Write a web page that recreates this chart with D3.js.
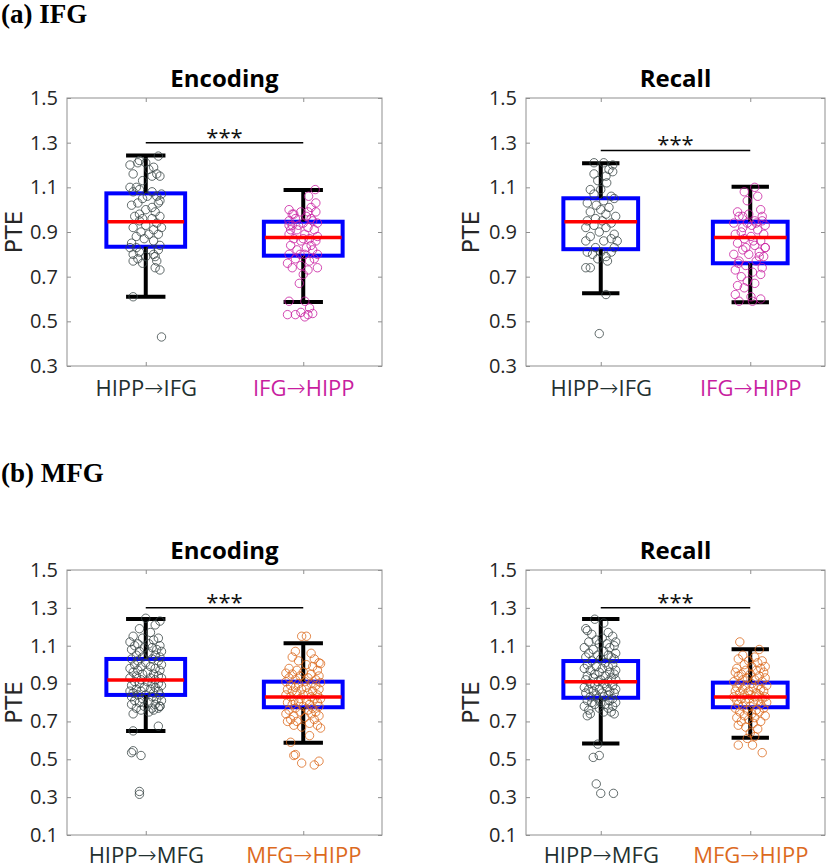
<!DOCTYPE html>
<html><head><meta charset="utf-8">
<script src="https://cdn.jsdelivr.net/npm/d3@7"></script>
<style>body{margin:0;background:#fff}svg{display:block}</style>
</head><body>
<script>
// ---------- data ----------
const panelLabels = ["(a) IFG", "(b) MFG"];
const titles = ["Encoding", "Recall"];
const catsA = ["HIPP\u2192IFG", "IFG\u2192HIPP"];
const catsB = ["HIPP\u2192MFG", "MFG\u2192HIPP"];
const yTicksA = [0.3, 0.5, 0.7, 0.9, 1.1, 1.3, 1.5];
const yTicksB = [0.1, 0.3, 0.5, 0.7, 0.9, 1.1, 1.3, 1.5];
const sigLabel = "***";
// box stats: [lower whisker, Q1, median, Q3, upper whisker]
const boxAEnc = [[0.610,0.834,0.946,1.073,1.242],[0.587,0.794,0.875,0.946,1.088]];
const boxARec = [[0.626,0.823,0.946,1.051,1.208],[0.585,0.760,0.875,0.946,1.103]];
const boxBEnc = [[0.649,0.840,0.919,1.030,1.241],[0.588,0.775,0.829,0.910,1.113]];
const boxBRec = [[0.584,0.825,0.910,1.019,1.241],[0.614,0.775,0.829,0.905,1.081]];
const sigAEnc = 1.30, sigARec = 1.265, sigBEnc = 1.30, sigBRec = 1.30;
// points: [jitter (category units), PTE]
const ptsAEnc1 = [[0.08,1.24],[-0.04,1.22],[-0.05,1.21],[-0.10,1.20],[0.00,1.21],[0.05,1.19],[0.02,1.18],[0.07,1.16],[-0.08,1.16],[0.09,1.15],[0.04,1.15],[-0.02,1.13],
[-0.10,1.10],[-0.06,1.10],[-0.04,1.09],[-0.08,1.08],[0.04,1.08],[0.10,1.07],[0.07,1.06],[0.01,1.06],[-0.02,1.05],[0.09,1.04],[-0.05,1.03],[0.08,1.03],[-0.09,1.02],[0.04,1.01],[0.00,1.00],[0.06,0.99],[-0.04,0.98],[0.09,0.97],[-0.07,0.97],[-0.02,0.96],[0.04,0.96],[-0.04,0.95],[0.07,0.94],[0.00,0.93],[-0.08,0.92],[0.10,0.92],[0.05,0.91],[-0.03,0.90],[0.02,0.89],[0.08,0.89],[-0.06,0.88],[-0.01,0.87],[0.05,0.86],[-0.09,0.85],[0.09,0.84],[-0.06,0.83],[0.03,0.82],[-0.10,0.83],[0.08,0.82],[-0.04,0.81],[0.05,0.80],[-0.08,0.80],[0.00,0.79],[0.06,0.79],[-0.05,0.78],[0.07,0.77],[-0.08,0.77],[-0.02,0.76],[0.06,0.74],[0.09,0.73],
[-0.08,0.61],[0.10,0.43]];
const ptsAEnc2 = [[0.076,1.09],[0.034,1.06],[0.08,1.03],[0.05,1.01],[-0.09,1.00],[-0.015,0.99],[-0.07,0.98],[0.08,0.99],[0.02,0.97],[-0.05,0.96],[0.05,0.96],[-0.09,0.95],[0.00,0.94],[0.09,0.94],[-0.07,0.93],[0.03,0.92],[-0.04,0.91],[0.07,0.91],[-0.09,0.89],[0.01,0.89],[0.09,0.88],[-0.06,0.87],[0.04,0.87],[-0.015,0.86],[0.08,0.86],[-0.08,0.84],[0.02,0.83],[-0.04,0.82],[0.06,0.82],[-0.09,0.80],[0.01,0.80],[0.09,0.80],[-0.05,0.78],[0.04,0.77],[-0.10,0.76],[-0.015,0.75],[0.09,0.74],[-0.07,0.74],[0.03,0.73],[0.00,0.71],[-0.025,0.67],
[-0.03,0.93],[0.06,0.95],[-0.08,0.91],[0.00,0.87],[0.05,0.84],[-0.02,0.80],[0.07,0.78],[-0.06,0.98],[0.03,0.99],[-0.09,0.93],
[-0.09,0.59],[0.01,0.59],[0.04,0.56],[-0.10,0.53],[-0.05,0.53],[-0.015,0.54],[0.03,0.53],[0.01,0.52],[0.06,0.535]];
const ptsARec1 = [[-0.045,1.21],[0.02,1.21],[0.08,1.20],[0.055,1.18],[-0.045,1.16],[0.08,1.17],[0.035,1.15],[-0.02,1.13],[0.04,1.12],[-0.07,1.09],[0.00,1.09],[-0.045,1.07],[0.07,1.06],[0.09,1.05],[0.02,1.04],[-0.09,1.03],[-0.03,1.02],[0.055,1.01],[0.00,1.00],[-0.07,0.99],[0.035,0.98],[0.10,0.97],[-0.035,0.96],[-0.09,0.95],[0.01,0.95],[0.07,0.94],[-0.045,0.93],[-0.10,0.92],[0.035,0.92],[-0.01,0.90],[0.09,0.89],[-0.07,0.88],[0.07,0.87],[0.11,0.86],[0.02,0.86],[-0.10,0.86],[-0.035,0.83],[0.09,0.83],[-0.09,0.81],[0.00,0.81],[0.07,0.81],[-0.055,0.80],[0.035,0.79],[-0.02,0.78],[-0.10,0.74],[-0.07,0.74],[0.045,0.77],
[0.035,0.62],[-0.01,0.445]];
const ptsARec2 = [[0.03,1.10],[-0.04,1.08],[0.05,1.06],[-0.02,1.04],[-0.085,0.99],[0.07,1.00],[-0.01,0.98],[-0.075,0.97],[0.08,0.97],[0.03,0.95],[-0.11,0.94],[-0.02,0.94],[0.10,0.93],[-0.05,0.92],[0.05,0.91],[-0.10,0.89],[0.09,0.89],[0.005,0.88],[-0.04,0.87],[0.07,0.86],[-0.085,0.85],[0.03,0.84],[0.10,0.83],[-0.05,0.82],[0.06,0.81],[-0.11,0.80],[-0.01,0.80],[0.09,0.79],[-0.075,0.77],[0.04,0.77],[-0.03,0.75],[0.08,0.74],[-0.10,0.73],[0.015,0.72],[-0.06,0.70],[0.07,0.71],[-0.02,0.68],[-0.085,0.66],[0.03,0.67],[-0.04,0.65],[-0.10,0.62],[0.005,0.61],[-0.075,0.59],[0.07,0.60],[0.015,0.59],
[0.04,0.94],[-0.06,0.90],[0.02,0.86],[-0.03,0.83],[0.06,0.79],[-0.08,0.76],[0.01,0.93],[0.08,0.95],[-0.05,0.97],[0.10,0.83]];
const ptsBEnc1 = [[0.00,1.245],[0.09,1.23],[0.06,1.21],[-0.04,1.19],[0.03,1.17],[-0.08,1.15],[0.08,1.14],[-0.02,1.14],[0.05,1.13],[-0.10,1.12],[-0.05,1.11],[0.02,1.11],[0.09,1.10],[-0.07,1.10],[0.04,1.09],[-0.01,1.09],[-0.09,1.08],[0.07,1.08],[0.10,1.07],[-0.04,1.07],[0.02,1.06],[-0.06,1.05],[0.06,1.05],[0.09,1.04],[-0.02,1.04],[-0.09,1.03],[0.04,1.03],[0.08,1.02],[-0.05,1.02],[0.00,1.01],[0.10,1.00],[-0.07,1.00],[0.03,0.99],[-0.03,0.99],[0.06,0.98],[-0.10,0.98],[0.09,0.97],[-0.05,0.97],[0.01,0.96],[-0.08,0.96],[0.05,0.95],[-0.02,0.95],[0.08,0.94],[-0.06,0.94],[0.03,0.93],[-0.10,0.93],[0.10,0.93],[-0.03,0.92],[0.06,0.92],[-0.07,0.91],[0.01,0.91],[0.08,0.90],[-0.04,0.90],[0.04,0.90],[-0.09,0.89],[0.10,0.89],[-0.01,0.88],[0.06,0.88],[-0.06,0.87],[0.03,0.87],[-0.10,0.86],[0.08,0.86],[-0.03,0.86],[0.05,0.85],[-0.08,0.85],[0.00,0.84],[0.09,0.84],[-0.05,0.84],[0.04,0.83],[-0.09,0.83],[0.07,0.82],[-0.02,0.82],[-0.07,0.81],[0.10,0.81],[0.02,0.80],[-0.04,0.80],[0.06,0.79],[-0.09,0.79],[0.09,0.78],[-0.01,0.78],[0.04,0.77],[-0.06,0.77],[0.08,0.77],[-0.03,0.76],[0.02,0.75],[-0.08,0.74],[0.05,0.76],[0.09,0.78],
[-0.08,0.65],[0.08,0.675],[-0.09,0.535],[-0.08,0.545],[-0.03,0.52],[-0.04,0.33],[-0.04,0.315]];
const ptsBEnc2 = [[-0.01,1.15],[0.02,1.15],[-0.05,1.07],[0.05,1.06],[0.07,1.03],[-0.07,1.04],[0.10,1.01],[0.11,1.005],[-0.03,1.02],[0.02,1.00],[0.06,0.99],[-0.09,0.98],[0.09,0.97],[-0.04,0.97],[0.00,0.96],[-0.11,0.955],[0.05,0.95],[-0.07,0.95],[0.10,0.94],[-0.02,0.94],[0.03,0.93],[-0.09,0.93],[0.08,0.92],[-0.05,0.92],[0.01,0.91],[-0.11,0.91],[0.11,0.905],[0.05,0.90],[-0.03,0.90],[-0.08,0.89],[0.08,0.89],[0.02,0.88],[-0.05,0.88],[0.10,0.87],[-0.10,0.87],[-0.01,0.87],[0.06,0.86],[-0.07,0.86],[0.03,0.85],[-0.04,0.85],[0.09,0.84],[-0.11,0.84],[0.00,0.84],[0.05,0.83],[-0.08,0.83],[0.11,0.82],[-0.02,0.82],[0.07,0.82],[-0.06,0.81],[0.02,0.81],[0.09,0.80],[-0.10,0.80],[-0.03,0.80],[0.04,0.79],[-0.07,0.79],[0.10,0.78],[0.00,0.78],[-0.05,0.77],[0.06,0.77],[-0.09,0.76],[0.03,0.76],[0.08,0.75],[-0.02,0.75],[-0.11,0.74],[0.05,0.74],[-0.06,0.73],[0.10,0.73],[0.01,0.72],[-0.08,0.71],[0.07,0.71],[-0.04,0.70],[0.04,0.69],[-0.10,0.70],[0.09,0.68],[-0.01,0.67],[-0.06,0.68],[0.11,0.665],[0.04,0.625],
[-0.08,0.59],[-0.05,0.525],[-0.06,0.52],[-0.01,0.48],[0.07,0.47],[0.10,0.49]];
const ptsBRec1 = [[-0.04,1.24],[0.02,1.22],[-0.10,1.19],[-0.09,1.18],[0.05,1.17],[-0.06,1.16],[0.08,1.15],[0.01,1.14],[-0.03,1.13],[0.10,1.12],[-0.08,1.12],[0.04,1.11],[-0.01,1.11],[0.09,1.10],[-0.11,1.09],[0.06,1.09],[-0.05,1.08],[0.02,1.07],[0.10,1.06],[-0.08,1.06],[0.05,1.05],[-0.02,1.05],[0.07,1.04],[-0.10,1.04],[0.00,1.03],[0.09,1.03],[-0.06,1.02],[0.03,1.01],[-0.09,1.00],[0.08,1.00],[-0.03,0.99],[0.05,0.99],[-0.11,0.98],[0.01,0.98],[0.10,0.97],[-0.07,0.97],[-0.01,0.96],[0.06,0.96],[-0.04,0.95],[0.09,0.95],[-0.09,0.94],[0.03,0.94],[-0.05,0.93],[0.07,0.93],[0.00,0.92],[-0.10,0.92],[0.10,0.92],[-0.02,0.91],[0.05,0.91],[-0.07,0.90],[0.02,0.90],[0.08,0.89],[-0.04,0.89],[-0.11,0.88],[0.04,0.88],[-0.01,0.87],[0.10,0.87],[-0.08,0.87],[0.06,0.86],[-0.05,0.86],[0.01,0.85],[0.09,0.85],[-0.10,0.85],[-0.03,0.84],[0.05,0.84],[-0.07,0.83],[0.02,0.83],[0.08,0.82],[-0.02,0.82],[-0.09,0.81],[0.06,0.81],[0.00,0.80],[-0.06,0.80],[0.10,0.80],[0.03,0.79],[-0.04,0.79],[0.08,0.78],[-0.11,0.78],[-0.01,0.77],[0.05,0.77],[-0.08,0.76],[0.02,0.75],[-0.07,0.74],[0.07,0.75],[-0.09,0.73],[0.09,0.74],
[-0.02,0.58],[-0.05,0.51],[-0.01,0.52],[-0.03,0.37],[0.00,0.32],[0.085,0.32]];
const ptsBRec2 = [[-0.07,1.12],[0.06,1.08],[-0.05,1.05],[0.03,1.04],[-0.08,1.03],[0.08,1.02],[-0.01,1.02],[0.05,1.01],[-0.04,1.00],[0.10,0.99],[0.01,0.99],[-0.09,0.98],[0.07,0.98],[-0.03,0.97],[0.04,0.97],[-0.10,0.96],[0.09,0.96],[-0.06,0.95],[0.00,0.95],[0.06,0.94],[-0.08,0.94],[-0.02,0.93],[0.10,0.93],[0.03,0.92],[-0.05,0.92],[-0.11,0.91],[0.08,0.91],[0.01,0.90],[-0.07,0.90],[0.05,0.89],[-0.03,0.89],[0.11,0.89],[-0.09,0.88],[0.02,0.88],[0.07,0.87],[-0.05,0.87],[-0.01,0.86],[-0.10,0.86],[0.09,0.86],[0.04,0.85],[-0.07,0.85],[0.00,0.84],[0.06,0.84],[-0.04,0.84],[-0.11,0.83],[0.10,0.83],[0.03,0.83],[-0.06,0.82],[-0.01,0.82],[0.08,0.82],[-0.09,0.81],[0.05,0.81],[-0.03,0.80],[0.02,0.80],[0.11,0.80],[-0.08,0.79],[0.07,0.79],[-0.05,0.78],[0.00,0.78],[-0.10,0.77],[0.09,0.77],[0.04,0.76],[-0.02,0.76],[-0.07,0.75],[0.06,0.75],[0.01,0.74],[-0.04,0.73],[0.10,0.73],[-0.09,0.72],[0.03,0.72],[-0.01,0.71],[0.07,0.70],[-0.06,0.70],[0.02,0.69],[-0.03,0.67],[0.05,0.66],[-0.08,0.68],[0.00,0.64],[0.03,0.62],
[-0.08,0.575],[0.015,0.575],[0.08,0.535],[-0.02,0.61]];

// ---------- style ----------
const grayPt = "#3b4747", magenta = "#c81ea0", orange = "#dc6a1e", labelDark = "#22302f";
const frameColor = "#8f8f8f", tickText = "#262626";
const font = "'Open Sans', 'Noto Sans', sans-serif";

const panels = [
  {title: titles[0], x0: 67,  x1: 382, y0: 98,  y1: 366, dom: [0.3,1.5], ticks: yTicksA, cats: catsA, box: boxAEnc, sig: sigAEnc, pts: [ptsAEnc1, ptsAEnc2], col2: magenta, ylab: 0, lab: 30},
  {title: titles[1], x0: 526, x1: 825, y0: 98,  y1: 366, dom: [0.3,1.5], ticks: yTicksA, cats: catsA, box: boxARec, sig: sigARec, pts: [ptsARec1, ptsARec2], col2: magenta, ylab: 457, lab: 30},
  {title: titles[0], x0: 67,  x1: 382, y0: 570, y1: 835, dom: [0.1,1.5], ticks: yTicksB, cats: catsB, box: boxBEnc, sig: sigBEnc, pts: [ptsBEnc1, ptsBEnc2], col2: orange, ylab: 0, lab: 28},
  {title: titles[1], x0: 526, x1: 825, y0: 570, y1: 835, dom: [0.1,1.5], ticks: yTicksB, cats: catsB, box: boxBRec, sig: sigBRec, pts: [ptsBRec1, ptsBRec2], col2: orange, ylab: 457, lab: 28}
];

const svg = d3.select("body").append("svg").attr("width", 828).attr("height", 868);

const serif = "'Liberation Serif', 'Times New Roman', serif";
svg.append("text").attr("x", 1).attr("y", 23).text(panelLabels[0])
  .attr("font-family", serif).attr("font-weight", "bold").attr("font-size", 27).attr("fill", "#000");
svg.append("text").attr("x", 1).attr("y", 482).text(panelLabels[1])
  .attr("font-family", serif).attr("font-weight", "bold").attr("font-size", 27).attr("fill", "#000");

panels.forEach(p => {
  const g = svg.append("g");
  const x = d3.scaleLinear().domain([0.5, 2.5]).range([p.x0, p.x1]);
  const y = d3.scaleLinear().domain(p.dom).range([p.y1, p.y0]);
  const colors = [grayPt, p.col2];
  const txtColors = [labelDark, p.col2];

  // frame
  g.append("rect").attr("x", p.x0).attr("y", p.y0).attr("width", p.x1 - p.x0).attr("height", p.y1 - p.y0)
    .attr("fill", "none").attr("stroke", frameColor).attr("stroke-width", 1);

  // y axes (left labels + inward ticks; mirrored ticks on right)
  const yAxL = d3.axisLeft(y).tickValues(p.ticks).tickFormat(d3.format(".1f")).tickSizeInner(-4).tickSizeOuter(0).tickPadding(10);
  const gl = g.append("g").attr("transform", `translate(${p.x0},0)`).call(yAxL);
  gl.select(".domain").remove();
  gl.selectAll("line").attr("stroke", frameColor);
  gl.selectAll("text").attr("font-family", font).attr("font-size", 20).attr("fill", tickText).attr("x", -9);
  const yAxR = d3.axisRight(y).tickValues(p.ticks).tickFormat("").tickSizeInner(-4).tickSizeOuter(0);
  const gr = g.append("g").attr("transform", `translate(${p.x1},0)`).call(yAxR);
  gr.select(".domain").remove();
  gr.selectAll("line").attr("stroke", frameColor);

  // x axes
  const xAxB = d3.axisBottom(x).tickValues([1, 2]).tickFormat((d, i) => p.cats[i]).tickSizeInner(-4).tickSizeOuter(0);
  const gb = g.append("g").attr("transform", `translate(0,${p.y1})`).call(xAxB);
  gb.select(".domain").remove();
  gb.selectAll("line").attr("stroke", frameColor);
  gb.selectAll("text").each(function(d, i) {
    const t = d3.select(this);
    const parts = p.cats[i].split("\u2192");
    t.text(null).attr("y", p.lab).attr("dy", 0).attr("font-family", font).attr("font-size", 22).attr("fill", txtColors[i]);
    t.append("tspan").text(parts[0]);
    t.append("tspan").attr("font-family", "'DejaVu Sans', sans-serif").attr("font-size", 23).attr("font-weight", 300).text("\u2192");
    t.append("tspan").text(parts[1]);
  });
  const xAxT = d3.axisTop(x).tickValues([1, 2]).tickFormat("").tickSizeInner(-4).tickSizeOuter(0);
  const gt = g.append("g").attr("transform", `translate(0,${p.y0})`).call(xAxT);
  gt.select(".domain").remove();
  gt.selectAll("line").attr("stroke", frameColor);

  // title
  g.append("text").attr("x", (p.x0 + p.x1) / 2).attr("y", p.y0 - 11).attr("text-anchor", "middle")
    .attr("font-family", font).attr("font-weight", "bold").attr("font-size", 24).attr("fill", "#000").text(p.title);
  // y label
  g.append("text").attr("transform", `translate(${p.ylab + 22},${(p.y0 + p.y1) / 2}) rotate(-90)`)
    .attr("text-anchor", "middle").attr("font-family", "'DejaVu Sans', sans-serif").attr("font-size", 23).attr("fill", tickText).text("PTE");

  // boxes
  const bw = 0.25, cw = 0.125;
  p.box.forEach((b, i) => {
    const c = i + 1;
    g.append("rect").attr("x", x(c - bw)).attr("y", y(b[3])).attr("width", x(c + bw) - x(c - bw)).attr("height", y(b[1]) - y(b[3]))
      .attr("fill", "none").attr("stroke", "#0000ff").attr("stroke-width", 4);
    [[b[3], b[4]], [b[1], b[0]]].forEach(([a, e]) => {
      g.append("line").attr("x1", x(c)).attr("x2", x(c)).attr("y1", y(a)).attr("y2", y(e)).attr("stroke", "#000").attr("stroke-width", 4);
      g.append("line").attr("x1", x(c - cw)).attr("x2", x(c + cw)).attr("y1", y(e)).attr("y2", y(e)).attr("stroke", "#000").attr("stroke-width", 4);
    });
  });

  // points
  p.pts.forEach((arr, i) => {
    g.append("g").selectAll("circle").data(arr).join("circle")
      .attr("cx", d => x(i + 1 + d[0])).attr("cy", d => y(d[1])).attr("r", 4.2)
      .attr("fill", "none").attr("stroke", colors[i]).attr("stroke-width", 1).attr("stroke-opacity", 0.8);
  });

  // medians
  p.box.forEach((b, i) => {
    const c = i + 1;
    g.append("line").attr("x1", x(c - bw) + 1).attr("x2", x(c + bw) - 1).attr("y1", y(b[2])).attr("y2", y(b[2]))
      .attr("stroke", "#ff0000").attr("stroke-width", 3.5);
  });

  // significance
  g.append("line").attr("x1", x(1)).attr("x2", x(2)).attr("y1", y(p.sig)).attr("y2", y(p.sig)).attr("stroke", "#000").attr("stroke-width", 1.5);
  g.append("text").attr("x", (x(1) + x(2)) / 2).attr("y", y(p.sig) + 2).attr("text-anchor", "middle")
    .attr("font-family", font).attr("font-size", 22).attr("fill", "#111").text(sigLabel);
});
</script>
</body></html>
